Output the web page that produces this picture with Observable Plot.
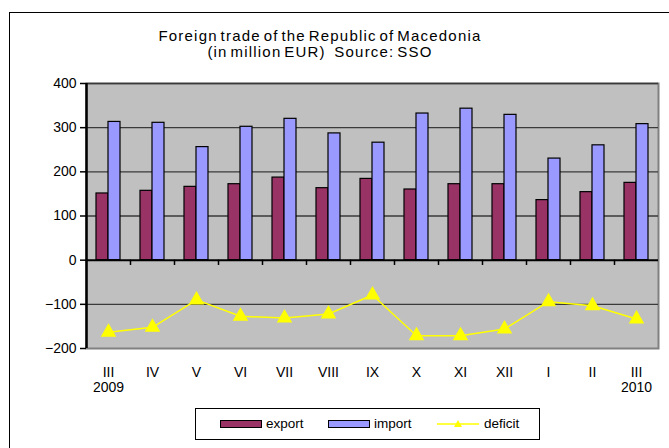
<!DOCTYPE html>
<html><head><meta charset="utf-8">
<script src="https://cdn.jsdelivr.net/npm/d3@7"></script>
<script src="https://cdn.jsdelivr.net/npm/@observablehq/plot@0.6"></script>
<style>
body{margin:0;background:#fff;font-family:"Liberation Sans",Arial,sans-serif;}
#wrap{position:relative;width:669px;height:448px;overflow:hidden;}
#frame{position:absolute;left:9px;top:12px;width:700px;height:500px;border:1.5px solid #000;box-sizing:border-box;}
#title{position:absolute;left:0;width:640px;top:28px;text-align:center;font-size:15px;line-height:16px;color:#000;letter-spacing:1.2px;word-spacing:-2.5px;}
#legend{position:absolute;left:195px;top:408px;width:345px;height:32px;border:1px solid #000;box-sizing:border-box;font-size:13.5px;}
#legend .it{position:absolute;top:8px;height:14px;line-height:14px;}
.sw{position:absolute;top:3px;width:40px;height:6px;border:1px solid #000;}
svg{position:absolute;left:0;top:0;}
</style></head>
<body><div id="wrap"><div id="frame"></div>
<div id="title">Foreign trade of the Republic of Macedonia<br>(in million EUR)&nbsp;&nbsp; Source: SSO</div>
<div id="chart"></div>
<div id="legend"></div>
</div>
<script>
const months = ["III","IV","V","VI","VII","VIII","IX","X","XI","XII","I","II","III"];
const years = ["2009","","","","","","","","","","","","2010"];
const exportVals = [151,157,166,172,187,163,184,160,172,172,136,154,175];
const importVals = [313,311,256,302,320,287,266,332,343,329,230,260,308];
const deficitVals = [-163,-152,-90,-127,-131,-122,-79,-171,-171,-156,-94,-103,-133];
const yTicks = [-200,-100,0,100,200,300,400];
const seriesNames = ["export","import","deficit"];
const colors = {export:"#993366", import:"#9999FF", deficit:"#FFFF00"};

const rows = months.map((m,i)=>({i, m, exp:exportVals[i], imp:importVals[i], def:deficitVals[i]}));
const idx = rows.map(d=>d.i);

const plot = Plot.plot({
  width:669, height:448,
  marginLeft:86, marginRight:11, marginTop:83, marginBottom:100,
  style:{fontFamily:'"Liberation Sans",Arial,sans-serif', fontSize:"14px", background:"transparent", overflow:"visible"},
  x:{type:"band", domain:idx, padding:0, axis:null},
  y:{domain:[-200,400], axis:null},
  marks:[
    Plot.frame({fill:"#C0C0C0", stroke:"#808080", strokeWidth:2}),
    Plot.ruleY(yTicks.filter(v=>v!==0 && v!==-200), {stroke:"#3a3a3a", strokeWidth:1.3}),
    Plot.barY(rows, {x:"i", y:"exp", fill:colors.export, stroke:"#000", strokeWidth:1.2, insetLeft:10, insetRight:22}),
    Plot.barY(rows, {x:"i", y:"imp", fill:colors.import, stroke:"#000", strokeWidth:1.2, insetLeft:22, insetRight:10}),
    Plot.ruleY([0], {stroke:"#000", strokeWidth:2}),
    Plot.ruleX(idx.slice(1), {x:d=>d, y1:0, y2:-12, stroke:"#000", strokeWidth:1.5, dx:-22}),
    Plot.ruleX([0], {x:()=>0, y1:-200, y2:400, stroke:"#000", strokeWidth:2.5, dx:-22}),
    Plot.line(rows, {x:"i", y:"def", stroke:colors.deficit, strokeWidth:1.5}),
    Plot.dot(rows, {x:"i", y:"def", symbol:"triangle", r:4.8, fill:colors.deficit, stroke:colors.deficit}),
    Plot.axisY(yTicks, {anchor:"left", tickSize:6, tickPadding:4, stroke:"#000", strokeWidth:1.5, fontSize:14, fill:"#000", label:null}),
    Plot.text(rows, {x:"i", y:-200, text:d=>months[d.i], dy:24, fontSize:14, fill:"#000"}),
    Plot.text(rows, {x:"i", y:-200, text:d=>years[d.i], dy:39, fontSize:14, fill:"#000"})
  ]
});
document.getElementById("chart").appendChild(plot);

// legend
const lg = document.getElementById("legend");
const items = [
  {name:seriesNames[0], left:24, type:"bar", color:colors.export},
  {name:seriesNames[1], left:132, type:"bar", color:colors.import},
  {name:seriesNames[2], left:241, type:"line", color:colors.deficit}
];
for (const it of items){
  const d = document.createElement("div");
  d.className="it"; d.style.left = it.left+"px";
  if (it.type==="bar"){
    d.innerHTML = `<span class="sw" style="background:${it.color}"></span><span style="margin-left:46px">${it.name}</span>`;
  } else {
    d.innerHTML = `<svg width="42" height="14" style="position:absolute;left:0;top:0"><line x1="0" y1="7" x2="42" y2="7" stroke="${it.color}" stroke-width="1.5"/><path d="M21,3 L25,10 L17,10 Z" fill="${it.color}"/></svg><span style="margin-left:47px">${it.name}</span>`;
  }
  lg.appendChild(d);
}
</script>
</body></html>
